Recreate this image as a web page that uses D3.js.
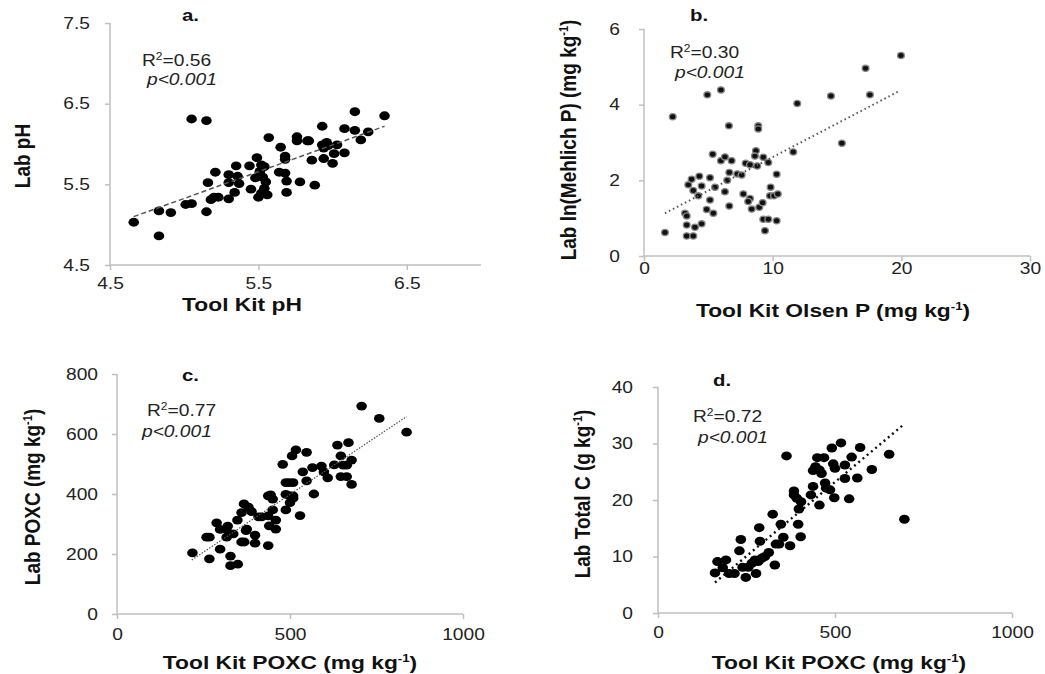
<!DOCTYPE html>
<html>
<head>
<meta charset="utf-8">
<script src="https://cdn.jsdelivr.net/npm/d3@7"></script>
<style>
  body { margin: 0; background: #fff; }
  svg { font-family: "Liberation Sans", Arial, sans-serif; }
  .axis line { stroke: #bfbfbf; stroke-width: 1.5; }
  .axis text { font-size: 16px; fill: #222; }
  .title { font-size: 19px; font-weight: bold; fill: #111; }
  .letter { font-size: 17px; font-weight: bold; fill: #111; }
  .note { font-size: 16px; fill: #222; }
</style>
</head>
<body>
<div id="chart"></div>
<script>
// panel a: Tool Kit pH vs Lab pH
let aX = [4.66,4.83,4.83,4.91,5.01,5.05,5.05,5.15,5.15,5.16,5.21,5.18,5.20,5.23,5.30,5.30,5.30,5.35,5.36,5.37,5.34,5.44,5.45,5.49,5.50,5.48,5.51,5.52,5.54,5.53,5.55,5.54,5.56,5.52,5.57,5.65,5.64,5.68,5.68,5.68,5.69,5.69,5.76,5.76,5.78,5.83,5.84,5.86,5.88,5.93,5.93,5.94,5.94,5.96,5.97,6.01,6.00,6.03,6.08,6.08,6.15,6.15,6.19,6.24,6.35,5.95];
let aY = [5.03,5.17,4.86,5.15,5.25,5.26,6.31,6.29,5.16,5.52,5.65,5.31,5.34,5.34,5.62,5.52,5.32,5.73,5.60,5.51,5.40,5.73,5.44,5.83,5.34,5.58,5.66,5.74,5.72,5.59,5.53,5.45,5.37,5.39,6.08,5.96,5.65,5.64,5.85,5.81,5.54,5.40,6.09,6.04,5.53,6.04,6.04,5.80,5.49,6.22,5.99,5.95,5.82,6.02,5.98,5.88,5.76,5.99,6.19,5.89,6.40,6.17,6.05,6.15,6.35,5.97];
let aTrend = [[4.66,5.10],[6.35,6.22]];

// panel b: Tool Kit Olsen P vs Lab ln(Mehlich P)
let bX = [1.63,2.23,4.92,5.98,6.60,8.88,8.88,11.91,14.53,17.22,17.56,19.97,15.38,11.6,3.32,3.83,3.32,3.96,4.48,3.19,3.32,4.87,5.39,5.13,4.22,3.83,3.44,3.70,4.30,4.48,5.13,5.52,6.29,6.47,6.63,7.25,7.59,6.63,5.34,5.98,6.29,6.81,7.90,8.24,8.80,8.70,8.62,9.27,9.66,10.31,7.72,8.24,8.10,8.37,8.96,9.22,9.84,9.79,10.1,10.4,9.27,9.66,10.31,9.40];
let bY = [0.62,3.68,4.26,4.39,3.44,3.44,3.36,4.03,4.23,4.96,4.26,5.30,2.98,2.75,0.53,0.53,0.82,0.76,0.85,1.13,1.06,1.23,1.13,1.48,1.59,1.73,1.88,2.03,2.11,1.85,2.07,1.82,1.70,2.00,2.21,2.17,2.14,1.32,2.69,2.52,2.62,2.52,2.45,2.41,2.38,2.78,2.64,2.61,2.47,2.16,1.64,1.52,1.44,1.24,1.29,1.41,1.82,1.59,1.59,1.64,0.97,0.97,0.93,0.67];
let bTrend = [[1.63,1.13],[19.9,4.37]];

// panel c: Tool Kit POXC vs Lab POXC
let cX = [218,259,267,267,288,298,316,298,320,317,336,328,328,349,348,360,367,380,389,360,368,375,373,399,399,409,418,437,437,444,450,440,450,459,459,437,479,488,488,498,509,488,500,500,509,509,506,517,529,537,548,548,565,569,591,598,609,628,637,647,654,664,647,664,669,678,678,707,758,837];
let cY = [204,256,256,184,304,282,282,216,293,256,267,193,161,166,313,338,367,356,341,240,240,283,278,263,236,324,324,327,394,397,383,294,347,313,283,228,499,347,438,438,438,399,394,371,394,386,527,547,328,474,539,444,488,400,493,474,454,497,563,527,496,496,458,458,571,513,432,693,652,606];
let cTrend = [[216,180],[837,658]];

// panel d: Tool Kit POXC vs Lab Total C
let dX = [161,168,192,183,201,216,234,230,239,248,255,265,274,283,293,302,313,277,286,288,324,330,333,342,347,354,373,363,384,384,392,396,403,398,404,432,438,438,445,450,469,456,456,462,472,475,486,491,495,500,498,517,528,528,540,547,563,571,604,653,696];
let dY = [7.1,9.1,9.4,8.0,7.0,7.0,13.0,11.0,8.1,6.3,8.1,8.8,9.4,9.1,9.7,10.0,10.7,7.0,15.1,12.7,17.5,8.5,12.2,12.2,15.7,13.4,11.9,27.8,21.6,20.9,20.3,15.7,13.5,18.4,19.7,20.9,22.4,25.2,25.9,27.5,27.5,19.1,25.3,24.7,23.0,22.1,21.8,29.2,26.4,25.6,20.4,30.1,26.2,23.8,20.2,27.6,23.9,29.3,25.4,28.1,16.6];
let dTrend = [[161,5.4],[693,33.3]];

let aTicksX = [4.5,5.5,6.5], aTicksY = [4.5,5.5,6.5,7.5];
let bTicksX = [0,10,20,30], bTicksY = [0,2,4,6];
let cTicksX = [0,500,1000], cTicksY = [0,200,400,600,800];
let dTicksX = [0,500,1000], dTicksY = [0,10,20,30,40];

// the source figure is stretched sideways
const SX = 1.2;

let svg = d3.select(`#chart`).append(`svg`)
    .attr(`width`, 1045)
    .attr(`height`, 674);

// one scatter panel
function panel(p){
    let x = d3.scaleLinear().domain(p.xDom).range(p.xRange);
    let y = d3.scaleLinear().domain(p.yDom).range(p.yRange);
    let g = svg.append(`g`);

    g.append(`g`).attr(`class`, `axis`)
        .attr(`transform`, `translate(0,` + p.yRange[0] + `)`)
        .call(d3.axisBottom(x).tickValues(p.ticksX).tickFormat(d3.format(p.fmt)).tickSize(5).tickSizeOuter(0).tickPadding(p.padX))
        .call(s => s.select(`.domain`).remove())
        .selectAll(`text`).attr(`font-family`, null).attr(`font-size`, null)
        .attr(`transform`, `scale(` + SX + `,1)`);
    g.append(`g`).attr(`class`, `axis`)
        .attr(`transform`, `translate(` + p.xRange[0] + `,0)`)
        .call(d3.axisLeft(y).tickValues(p.ticksY).tickFormat(d3.format(p.fmt)).tickSize(5).tickSizeOuter(0).tickPadding(p.padY))
        .call(s => s.select(`.domain`).remove())
        .selectAll(`text`).attr(`font-family`, null).attr(`font-size`, null)
        .attr(`x`, 0)
        .attr(`transform`, `translate(` + (-5 - p.padY) + `,0) scale(` + SX + `,1)`);

    // axis lines
    g.append(`line`).attr(`x1`, p.xRange[0]).attr(`x2`, p.xRange[1])
        .attr(`y1`, p.yRange[0]).attr(`y2`, p.yRange[0]).attr(`stroke`, `#bfbfbf`).attr(`stroke-width`, 1.5);
    g.append(`line`).attr(`x1`, p.xRange[0]).attr(`x2`, p.xRange[0])
        .attr(`y1`, p.yRange[0]).attr(`y2`, p.yRange[1]).attr(`stroke`, `#bfbfbf`).attr(`stroke-width`, 1.5);

    let pts = p.xs.map((v, i) => ({x: v, y: p.ys[i]}));
    let dots = g.append(`g`).selectAll(`ellipse`).data(pts).enter().append(`ellipse`)
        .attr(`cx`, d => x(d.x))
        .attr(`cy`, d => y(d.y))
        .attr(`rx`, p.rx).attr(`ry`, p.ry)
        .attr(`fill`, `#000`);
    if (p.halo) dots.attr(`fill`, `#111`).attr(`stroke`, `#888`).attr(`stroke-width`, 1.3);

    g.append(`path`).datum(p.trend)
        .attr(`fill`, `none`)
        .attr(`stroke`, p.lineColor)
        .attr(`stroke-width`, p.lineWidth)
        .attr(`stroke-dasharray`, p.dash)
        .attr(`d`, d3.line().x(d => x(d[0])).y(d => y(d[1])));

    g.append(`text`).attr(`class`, `letter`)
        .attr(`transform`, `translate(` + p.letter[1] + `,` + p.letter[2] + `) scale(` + SX + `,1)`)
        .text(p.letter[0]);

    let r2 = g.append(`text`).attr(`class`, `note`)
        .attr(`transform`, `translate(` + p.r2[0] + `,` + p.r2[1] + `) scale(` + SX + `,1)`);
    r2.append(`tspan`).text(`R`);
    r2.append(`tspan`).attr(`font-size`, 10).attr(`dy`, -6).text(`2`);
    r2.append(`tspan`).attr(`dy`, 6).text(`=` + p.r2[2]);
    g.append(`text`).attr(`class`, `note`)
        .attr(`transform`, `translate(` + p.pv[0] + `,` + p.pv[1] + `) scale(` + SX + `,1)`)
        .attr(`font-style`, `italic`).text(`p<0.001`);

    // axis titles
    let xt = g.append(`text`).attr(`class`, `title`).attr(`text-anchor`, `middle`)
        .attr(`transform`, `translate(` + p.xTitle[1] + `,` + p.xTitle[2] + `) scale(` + SX + `,1)`);
    addUnit(xt, p.xTitle[0]);
    let yt = g.append(`text`).attr(`class`, `title`).attr(`text-anchor`, `middle`)
        .attr(`transform`, `translate(` + p.yTitle[1] + `,` + p.yTitle[2] + `) scale(` + SX + `,1) rotate(-90)`);
    addUnit(yt, p.yTitle[0]);
}

// text with optional superscript -1 after "kg"
function addUnit(t, s){
    let parts = s.split(`^`);
    t.append(`tspan`).text(parts[0]);
    if (parts.length > 1) {
        t.append(`tspan`).attr(`font-size`, 11).attr(`dy`, -7).text(`-1`);
        t.append(`tspan`).attr(`dy`, 7).text(parts[1]);
    }
}

panel({xs: aX, ys: aY, trend: aTrend, xDom: [4.5,7.0], yDom: [4.5,7.5], fmt: `.1f`,
    xRange: [110,481], yRange: [265,23], ticksX: aTicksX, ticksY: aTicksY, padX: 8, padY: 15,
    rx: 5.3, ry: 4.4, lineColor: `#555`, lineWidth: 1.5, dash: `5,3`,
    letter: [`a.`, 182, 21], r2: [142, 66, `0.56`], pv: [147, 85],
    xTitle: [`Tool Kit pH`, 242, 311], yTitle: [`Lab pH`, 30, 156]});

panel({xs: bX, ys: bY, trend: bTrend, xDom: [0,30], yDom: [0,6], fmt: `d`,
    xRange: [644,1030], yRange: [256,29], ticksX: bTicksX, ticksY: bTicksY, padX: 2, padY: 19,
    rx: 3.4, ry: 3.1, halo: true, lineColor: `#555`, lineWidth: 2, dash: `1.5,3`,
    letter: [`b.`, 690, 21], r2: [670, 58, `0.30`], pv: [675, 78],
    xTitle: [`Tool Kit Olsen P (mg kg^)`, 833, 317], yTitle: [`Lab ln(Mehlich P)  (mg kg^)`, 576, 140]});

panel({xs: cX, ys: cY, trend: cTrend, xDom: [0,1000], yDom: [0,800], fmt: `d`,
    xRange: [117,463], yRange: [614,374], ticksX: cTicksX, ticksY: cTicksY, padX: 10, padY: 14,
    rx: 5.3, ry: 4.4, lineColor: `#555`, lineWidth: 1.2, dash: `1.5,1.5`,
    letter: [`c.`, 182, 381], r2: [147, 416, `0.77`], pv: [142, 437],
    xTitle: [`Tool Kit POXC (mg kg^)`, 290, 669], yTitle: [`Lab POXC (mg kg^)`, 40, 497]});

panel({xs: dX, ys: dY, trend: dTrend, xDom: [0,1000], yDom: [0,40], fmt: `d`,
    xRange: [658,1012], yRange: [613,387], ticksX: dTicksX, ticksY: dTicksY, padX: 9, padY: 20,
    rx: 5.3, ry: 4.5, lineColor: `#111`, lineWidth: 2.4, dash: `2,3.5`,
    letter: [`d.`, 713, 386], r2: [693, 422, `0.72`], pv: [698, 443],
    xTitle: [`Tool Kit POXC (mg kg^)`, 839, 669], yTitle: [`Lab Total C (g kg^)`, 590, 494]});
</script>
</body>
</html>
